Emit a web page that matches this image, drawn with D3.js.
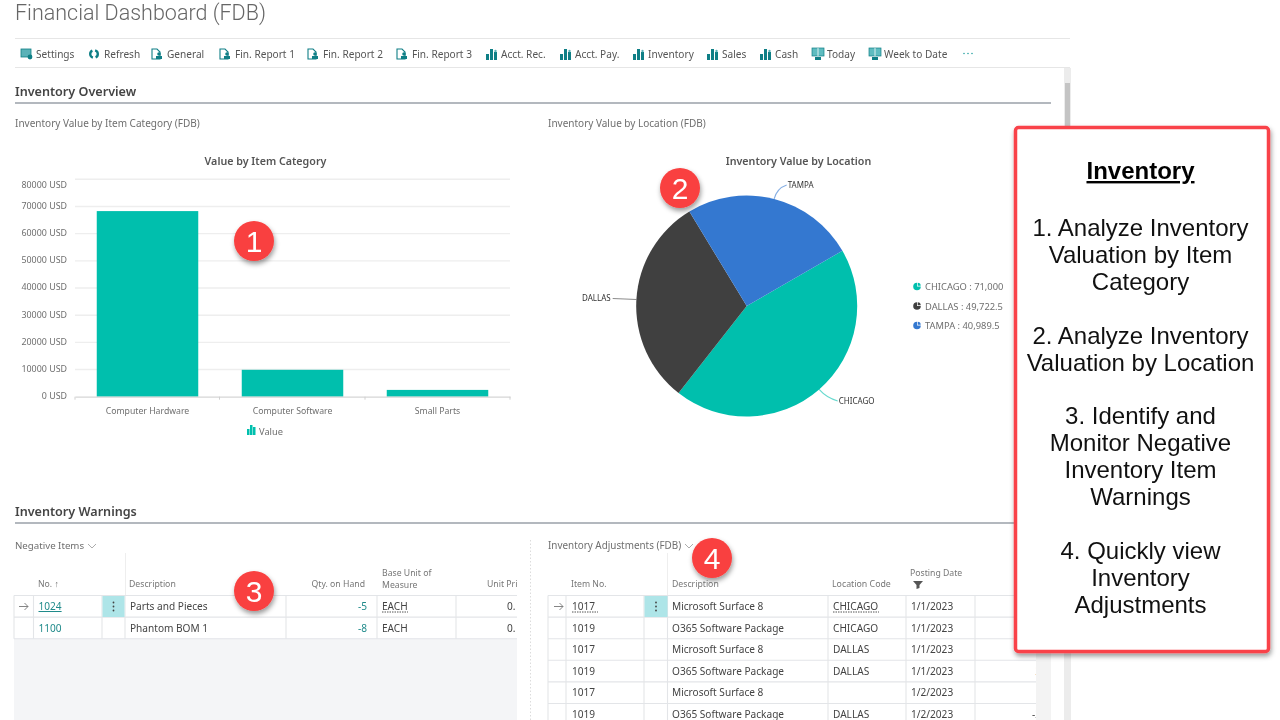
<!DOCTYPE html>
<html>
<head>
<meta charset="utf-8">
<script src="https://cdn.jsdelivr.net/npm/d3@7"></script>
<style>
  html, body { margin: 0; padding: 0; background: #fff; }
  svg { display: block; filter: blur(0.3px); }
  text { font-family: "Noto Sans", "Open Sans", sans-serif; }
</style>
</head>
<body>
<svg id="chart" width="1280" height="720"></svg>
<script>
// 1. Data
const barCategories = ["Computer Hardware", "Computer Software", "Small Parts"];
const barValues = [68300, 9900, 2500];
const barTicks = [0, 10000, 20000, 30000, 40000, 50000, 60000, 70000, 80000];

const pieLocations = ["CHICAGO", "DALLAS", "TAMPA"];
const pieValues = [71000, 49722.5, 40989.5];
const pieLegend = ["CHICAGO : 71,000", "DALLAS : 49,722.5", "TAMPA : 40,989.5"];

const toolbarLabels = ["Settings", "Refresh", "General", "Fin. Report 1", "Fin. Report 2", "Fin. Report 3",
  "Acct. Rec.", "Acct. Pay.", "Inventory", "Sales", "Cash", "Today", "Week to Date"];
const toolbarIcons = ["set", "ref", "doc", "doc", "doc", "doc", "bar", "bar", "bar", "bar", "bar", "scr", "scr"];
const toolbarX = [21, 89, 152, 220, 308, 397, 486, 560, 633, 707, 760, 812, 869];

const negNo = ["1024", "1100"];
const negDesc = ["Parts and Pieces", "Phantom BOM 1"];
const negQty = ["-5", "-8"];
const negUnit = ["EACH", "EACH"];
const negPrice = ["0.", "0."];

const adjNo = ["1017", "1019", "1017", "1019", "1017", "1019"];
const adjDesc = ["Microsoft Surface 8", "O365 Software Package", "Microsoft Surface 8",
  "O365 Software Package", "Microsoft Surface 8", "O365 Software Package"];
const adjLoc = ["CHICAGO", "CHICAGO", "DALLAS", "DALLAS", "", "DALLAS"];
const adjDate = ["1/1/2023", "1/1/2023", "1/1/2023", "1/1/2023", "1/2/2023", "1/2/2023"];
const adjQtyCut = ["", "", "", "2", "", "-2"]; // mostly hidden by the scroll column

const noteLines = ["1. Analyze Inventory", "Valuation by Item", "Category", "",
  "2. Analyze Inventory", "Valuation by Location", "",
  "3. Identify and", "Monitor Negative", "Inventory Item", "Warnings", "",
  "4. Quickly view", "Inventory", "Adjustments"];

const badges = [["1", 254, 241], ["2", 680, 188], ["3", 254, 591], ["4", 712, 558]];

const teal = "#00bfad", dark = "#404040", blue = "#3478d0", grey = "#6f6f6f", link = "#1f8a8a";
const svg = d3.select("#chart");

function label(parent, str, x, y, size, fill, anchor, weight) {
  return parent.append("text").attr("x", x).attr("y", y)
    .attr("font-size", size).attr("fill", fill)
    .attr("text-anchor", anchor || "start")
    .attr("font-weight", weight || 400).text(str);
}
function hline(x1, x2, y, color, w) {
  svg.append("line").attr("x1", x1).attr("x2", x2).attr("y1", y).attr("y2", y)
    .attr("stroke", color).attr("stroke-width", w || 1);
}

// 2. Page header and toolbar
label(svg, "Financial Dashboard (FDB)", 15, 20, 21.5, "#666", "start", 300).style("font-family", "Roboto, sans-serif");
hline(15, 1070, 38.5, "#e6e6e6", 1.2);
hline(15, 1070, 67.5, "#e6e6e6", 1.2);

const tb = svg.selectAll(".tb").data(toolbarLabels).enter().append("g").attr("class", "tb")
  .attr("transform", (d, i) => `translate(${toolbarX[i]},54)`);
tb.append("text").attr("x", 15).attr("y", 4).attr("font-size", 10.1).attr("fill", "#555").text(d => d);
tb.each(function (d, i) {
  const g = d3.select(this), kind = toolbarIcons[i], c = "#0f7f86";
  if (kind === "bar") {
    [[0, 0, 6], [4, -5, 11], [8, -2, 8]].forEach(r =>
      g.append("rect").attr("x", r[0]).attr("y", r[1]).attr("width", 3).attr("height", r[2]).attr("fill", c));
    g.append("circle").attr("cx", 9.5).attr("cy", -3).attr("r", 1.2).attr("fill", "#5ab2b8");
  } else if (kind === "doc") {
    g.append("path").attr("d", "M0,-5H5L8,-2V5H0Z").attr("fill", "none").attr("stroke", c).attr("stroke-width", 1.1);
    g.append("circle").attr("cx", 7).attr("cy", 0).attr("r", 1.8).attr("fill", c);
    g.append("rect").attr("x", 4).attr("y", 2).attr("width", 6).attr("height", 3).attr("fill", c);
  } else if (kind === "scr") {
    g.append("rect").attr("x", 0).attr("y", -6).attr("width", 12).attr("height", 8).attr("fill", "#5ebcc0").attr("stroke", c).attr("stroke-width", 0.7);
    g.append("line").attr("x1", 6).attr("x2", 6).attr("y1", -6).attr("y2", 2).attr("stroke", "#fff").attr("stroke-width", 0.8);
    g.append("rect").attr("x", 3).attr("y", 3).attr("width", 6).attr("height", 3).attr("fill", c);
  } else if (kind === "ref") {
    const ring = d3.arc().innerRadius(2.6).outerRadius(5);
    [[0.3, 2.7], [3.44, 5.84]].forEach(a =>
      g.append("path").attr("transform", "translate(5,0)").attr("fill", c)
        .attr("d", ring({ startAngle: a[0], endAngle: a[1] })));
  } else {
    g.append("rect").attr("x", 0).attr("y", -5).attr("width", 10).attr("height", 8).attr("fill", "#5ab2b8").attr("stroke", c).attr("stroke-width", 0.8);
    g.append("circle").attr("cx", 9).attr("cy", 3).attr("r", 2.4).attr("fill", c);
  }
});
svg.append("g").selectAll("circle").data([0, 1, 2]).enter().append("circle")
  .attr("cx", d => 964 + d * 4).attr("cy", 53.5).attr("r", 0.8).attr("fill", "#2fa5a5");

// scrollbar
svg.append("rect").attr("x", 1064).attr("y", 68).attr("width", 7).attr("height", 652).attr("fill", "#ececec");
svg.append("rect").attr("x", 1065).attr("y", 83).attr("width", 5).attr("height", 330).attr("fill", "#c4c4c4");

// 3. Sections
label(svg, "Inventory Overview", 15, 96, 12.6, "#444", "start", 600);
hline(15, 1051, 103, "#9aa0a8", 1.4);
label(svg, "Inventory Value by Item Category (FDB)", 15, 127, 10, grey);
label(svg, "Inventory Value by Location (FDB)", 548, 127, 10, grey);
label(svg, "Inventory Warnings", 15, 516, 12.6, "#444", "start", 600);
hline(15, 1051, 523, "#9aa0a8", 1.4);

// 4. Bar chart
const x = d3.scaleBand().domain(barCategories).range([75, 510]).paddingInner(0.3).paddingOuter(0.15);
const y = d3.scaleLinear().domain([0, 80000]).range([396.7, 179.3]);

label(svg, "Value by Item Category", 265.5, 165, 10.7, "#555", "middle", 600);

const yAxis = svg.append("g").attr("transform", "translate(75,0)")
  .call(d3.axisLeft(y).tickValues(barTicks).tickSize(0).tickPadding(8).tickFormat(d => d + " USD"));
yAxis.select(".domain").remove();
yAxis.selectAll("text").attr("font-size", 8.9).attr("fill", grey)
  .attr("dy", d => (d === 80000 ? "0.95em" : "0.22em")); // top label sits under its gridline in the original
svg.append("g").selectAll("line").data(barTicks.slice(1)).enter().append("line")
  .attr("x1", 75).attr("x2", 510).attr("y1", d => y(d)).attr("y2", d => y(d))
  .attr("stroke", "#eeeeee").attr("stroke-width", 1.4);

svg.append("g").selectAll("rect").data(barValues).enter().append("rect")
  .attr("x", (d, i) => x(barCategories[i])).attr("y", d => y(d))
  .attr("width", x.bandwidth()).attr("height", d => y(0) - y(d))
  .attr("fill", teal);

const xAxis = svg.append("g").attr("transform", `translate(0,${y(0)})`)
  .call(d3.axisBottom(x).tickSize(0).tickPadding(11));
xAxis.select(".domain").attr("stroke", "#d6d6d6").attr("stroke-width", 1.2);
xAxis.selectAll("text").attr("font-size", 8.7).attr("fill", grey);
svg.append("g").selectAll("line").data([75, 219.5, 365, 510]).enter().append("line")
  .attr("x1", d => d).attr("x2", d => d).attr("y1", y(0)).attr("y2", y(0) + 3).attr("stroke", "#d0d0d0");

[[247, 429, 6], [250, 425, 10], [253, 427, 8]].forEach(r =>
  svg.append("rect").attr("x", r[0]).attr("y", r[1]).attr("width", 2.5).attr("height", r[2]).attr("fill", teal));
label(svg, "Value", 259, 435, 9.3, grey);

// 5. Pie chart
const cx = 746.7, cy = 306, radius = 110.5;
const pieColor = d3.scaleOrdinal().domain(pieLocations).range([teal, dark, blue]);
const pie = d3.pie().sort(null).startAngle(Math.PI / 3).endAngle(Math.PI / 3 + 2 * Math.PI);
const arc = d3.arc().innerRadius(0).outerRadius(radius);
const arcs = pie(pieValues);

label(svg, "Inventory Value by Location", 798.5, 165, 10.7, "#555", "middle", 600);
const pg = svg.append("g").attr("transform", `translate(${cx},${cy})`);
pg.selectAll("path").data(arcs).enter().append("path")
  .attr("d", arc).attr("fill", (d, i) => pieColor(pieLocations[i]));

// leader lines leave each slice at its mid angle and bend towards the label
const leaderEnd = [[91, 95], [-134, -7.5], [40, -121]];
const leaderAnchor = ["start", "end", "start"];
arcs.forEach((a, i) => {
  const mid = (a.startAngle + a.endAngle) / 2;
  const sx = Math.sin(mid) * radius, sy = -Math.cos(mid) * radius;
  const [ex, ey] = leaderEnd[i];
  pg.append("path")
    .attr("d", `M${sx},${sy}Q${sx * 1.1},${sy * 1.1} ${ex},${ey}`)
    .attr("fill", "none").attr("stroke", pieColor(pieLocations[i]))
    .attr("stroke-opacity", 0.6).attr("stroke-width", 1.1);
  label(pg, pieLocations[i], ex + (i === 1 ? -2 : 1), ey + 2.8, 8, "#333", leaderAnchor[i]);
});

// pie legend, markers are little pies
const lg = svg.append("g").selectAll("g").data(pieLegend).enter().append("g")
  .attr("transform", (d, i) => `translate(917,${286.5 + i * 19.5})`);
lg.append("path").attr("fill", (d, i) => pieColor(pieLocations[i]))
  .attr("d", d3.arc().innerRadius(0).outerRadius(3.8)({ startAngle: Math.PI / 2, endAngle: 2 * Math.PI }));
lg.append("path").attr("fill", (d, i) => pieColor(pieLocations[i])).attr("transform", "translate(0.7,-0.7)")
  .attr("d", d3.arc().innerRadius(0).outerRadius(3)({ startAngle: 0, endAngle: Math.PI / 2 }));
lg.append("text").attr("x", 8).attr("y", 3.5).attr("font-size", 9.35).attr("fill", grey).text(d => d);

// 6. Tables
function tableBase(x0, cols, rows, xEnd) {
  const rowY = d3.range(rows + 1).map(i => 595.5 + i * 21.6);
  svg.append("rect").attr("x", x0).attr("y", 595.5).attr("width", xEnd - x0).attr("height", rows * 21.6)
    .attr("fill", "#fff");
  svg.append("g").selectAll("line").data(rowY).enter().append("line")
    .attr("x1", x0).attr("x2", xEnd).attr("y1", d => d).attr("y2", d => d).attr("stroke", "#e3e5e8").attr("stroke-width", 1.1);
  svg.append("g").selectAll("line").data(cols).enter().append("line")
    .attr("x1", d => d).attr("x2", d => d).attr("y1", 595.5).attr("y2", Math.min(595.5 + rows * 21.6, 720))
    .attr("stroke", "#e3e5e8").attr("stroke-width", 1.1);
  return rowY;
}

// left table
svg.append("rect").attr("x", 14).attr("y", 638).attr("width", 503).attr("height", 82).attr("fill", "#f4f5f7");
const leftY = tableBase(14, [14, 33.5, 102, 125, 286, 377, 456], 2, 517);
svg.append("rect").attr("x", 102.5).attr("y", 596).attr("width", 22).attr("height", 21).attr("fill", "#aee5e8");
label(svg, "Negative Items", 15, 549, 9.7, grey);
svg.append("path").attr("d", "M88,544l4,4l4,-4").attr("fill", "none").attr("stroke", "#888").attr("stroke-width", 0.7);
svg.append("line").attr("x1", 125.5).attr("x2", 125.5).attr("y1", 553).attr("y2", 595).attr("stroke", "#eeeeee");
label(svg, "No. ↑", 38, 587, 8.7, "#777");
label(svg, "Description", 129, 587, 8.7, "#777");
label(svg, "Qty. on Hand", 365, 587, 8.7, "#777", "end");
label(svg, "Base Unit of", 382, 576, 8.7, "#777");
label(svg, "Measure", 382, 588, 8.7, "#777");
label(svg, "Unit Pri", 487, 587, 8.7, "#777");
negNo.forEach((d, i) => {
  const ty = leftY[i] + 14.5;
  const t = label(svg, d, 38.5, ty, 10.1, link);
  if (i === 0) t.attr("text-decoration", "underline");
  label(svg, negDesc[i], 130, ty, 10.1, "#444");
  label(svg, negQty[i], 367, ty, 10.1, link, "end");
  label(svg, negUnit[i], 382, ty, 10.1, "#444");
  label(svg, negPrice[i], 507, ty, 10.1, "#444");
});
svg.append("line").attr("x1", 382).attr("x2", 408).attr("y1", 612).attr("y2", 612).attr("stroke", "#555").attr("stroke-dasharray", "1.5 1");

// right table
const rightY = tableBase(548, [548, 566, 644, 667.5, 828, 906, 975], 6, 1036);
adjQtyCut.forEach((d, i) => label(svg, d, 1041, rightY[i] + 14.5, 10.1, i === 3 ? "#d98a1f" : "#444", "end"));
svg.append("rect").attr("x", 1036).attr("y", 596).attr("width", 15).attr("height", 124).attr("fill", "#f3f3f3");
svg.append("rect").attr("x", 644.5).attr("y", 596).attr("width", 23).attr("height", 21).attr("fill", "#aee5e8");
label(svg, "Inventory Adjustments (FDB)", 548, 549, 9.9, grey);
svg.append("path").attr("d", "M685,544l4,4l4,-4").attr("fill", "none").attr("stroke", "#888").attr("stroke-width", 0.7);
svg.append("line").attr("x1", 667.5).attr("x2", 667.5).attr("y1", 553).attr("y2", 595).attr("stroke", "#eeeeee");
label(svg, "Item No.", 571, 587, 8.7, "#777");
label(svg, "Description", 672, 587, 8.7, "#777");
label(svg, "Location Code", 832, 587, 8.8, "#777");
label(svg, "Posting Date", 910, 576, 8.7, "#777");
svg.append("path").attr("d", "M913,581h10l-3.5,4v3l-3,1v-4Z").attr("fill", "#555");
adjNo.forEach((d, i) => {
  const ty = rightY[i] + 14.5;
  label(svg, d, 572, ty, 10.1, "#444");
  label(svg, adjDesc[i], 672, ty, 10.1, "#444");
  label(svg, adjLoc[i], 833, ty, 10.1, "#444");
  label(svg, adjDate[i], 911, ty, 10.1, "#444");
});
[[572, 598], [833, 879]].forEach(r =>
  svg.append("line").attr("x1", r[0]).attr("x2", r[1]).attr("y1", 612).attr("y2", 612).attr("stroke", "#555").attr("stroke-dasharray", "1.5 1"));

// row arrows and action dots
[[19, 113.5], [554, 656]].forEach(p => {
  svg.append("path").attr("d", `M${p[0]},606.5h9m-3.5,-3.5l3.5,3.5l-3.5,3.5`).attr("fill", "none").attr("stroke", "#777").attr("stroke-width", 0.9);
  svg.append("g").selectAll("circle").data([-4, 0, 4]).enter().append("circle")
    .attr("cx", p[1]).attr("cy", d => 606.5 + d).attr("r", 0.9).attr("fill", "#444");
});

// dotted splitter between tables
svg.append("line").attr("x1", 530.5).attr("x2", 530.5).attr("y1", 540).attr("y2", 720)
  .attr("stroke", "#dcdcdc").attr("stroke-dasharray", "1.5 2");

// 7. Shadow filter, note box and badges
const defs = svg.append("defs");
const f = defs.append("filter").attr("id", "shadow").attr("x", "-30%").attr("y", "-30%").attr("width", "160%").attr("height", "160%");
f.append("feDropShadow").attr("dx", 1).attr("dy", 3).attr("stdDeviation", 2.5).attr("flood-color", "#000").attr("flood-opacity", 0.4);

svg.append("rect").attr("x", 1015.5).attr("y", 127.5).attr("width", 253).attr("height", 524).attr("rx", 3)
  .attr("fill", "#fff").attr("stroke", "#f9424a").attr("stroke-width", 3.5).attr("filter", "url(#shadow)");
const note = svg.append("g");
note.append("text").attr("x", 1140.5).attr("y", 179).attr("text-anchor", "middle")
  .attr("font-size", 24).attr("font-weight", 700).attr("fill", "#000")
  .style("font-family", '"Liberation Sans", Arial, sans-serif')
  .attr("text-decoration", "underline").text("Inventory");
note.selectAll(".ln").data(noteLines).enter().append("text").attr("class", "ln")
  .attr("x", 1140.5).attr("y", (d, i) => 236 + i * 26.9).attr("text-anchor", "middle")
  .attr("font-size", 24).attr("fill", "#111")
  .style("font-family", '"Liberation Sans", Arial, sans-serif').text(d => d);

const bg = svg.append("g").selectAll("g").data(badges).enter().append("g")
  .attr("transform", d => `translate(${d[1]},${d[2]})`);
bg.append("circle").attr("r", 20).attr("fill", "#f9403f").attr("filter", "url(#shadow)");
bg.append("text").attr("y", 11).attr("text-anchor", "middle").attr("font-size", 30).attr("fill", "#fff")
  .style("font-family", '"Liberation Sans", Arial, sans-serif').text(d => d[0]);
</script>
</body>
</html>
